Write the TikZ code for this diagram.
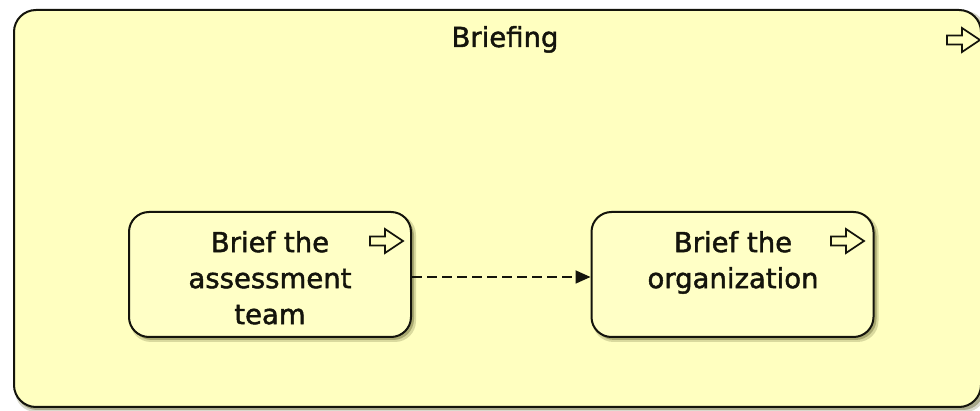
\documentclass[tikz,border=0pt]{standalone}
\usepackage{fontspec}
\setmainfont{DejaVu Sans}[RawFeature={embolden=1.6}]
\usetikzlibrary{arrows.meta,shadows}

\definecolor{panelfill}{RGB}{255,255,192}
\definecolor{taskfill}{RGB}{255,255,198}
\definecolor{shadecol}{RGB}{110,110,60}
\definecolor{edgecol}{RGB}{20,20,12}

\tikzset{
  x=1pt, y=-1pt,
  panel/.style={draw=edgecol, line width=2pt, fill=panelfill,
    rounded corners=22pt, minimum width=967pt, minimum height=397pt,
    inner sep=0pt},
  taskbox/.style={draw=edgecol, line width=2pt, fill=taskfill,
    rounded corners=20pt, minimum width=282pt, minimum height=125pt,
    inner sep=0pt},
  boxshade/.style={fill=shadecol, rounded corners=21pt},
  label/.style={font=\fontsize{27.5}{36}\selectfont, text=edgecol,
    align=center, inner sep=0pt},
  flow/.style={draw=edgecol, line width=1.8pt, dash pattern=on 10pt off 5pt,
    -{Triangle[length=15pt,width=13pt]}},
  pics/flowmark/.style={code={
    \draw[edgecol, line width=1.7pt, fill=panelfill, line join=miter]
      (-33,-4.5) -- (-18,-4.5) -- (-18,-12) -- (0,0) -- (-18,12)
      -- (-18,4.5) -- (-33,4.5) -- cycle;
  }}
}

\begin{document}
\begin{tikzpicture}
  \useasboundingbox (0,0) rectangle (980,411);
  \clip (0,0) rectangle (980,411);
  \fill[white] (0,0) rectangle (980,411);

  % enclosing sub-process with a soft shadow
  \fill[boxshade, opacity=0.25] (15,11) rectangle (986,412);
  \fill[boxshade, opacity=0.45] (16,12) rectangle (984,410);
  \node[panel] (briefing) at (497.5,208.5) {};
  \node[label, anchor=base] (briefingtitle) at (505,47) {Briefing};
  \pic at (980,40) {flowmark};

  % task shadows
  \foreach \cx in {270,732.5} {
    \fill[boxshade, opacity=0.25] (\cx-140,214) rectangle (\cx+146,342);
    \fill[boxshade, opacity=0.45] (\cx-139,215) rectangle (\cx+144,340);
  }

  % tasks
  \node[taskbox] (assess) at (270,274.5) {};
  \node[label, anchor=north] (assesstext) at (270,231) {Brief the\\assessment\\team};
  \pic at (403,241) {flowmark};

  \node[taskbox] (org) at (732.5,274.5) {};
  \node[label, anchor=north] (orgtext) at (733,231) {Brief the\\organization};
  \pic at (864,241) {flowmark};

  % sequence flow
  \draw[flow] ([yshift=-2.5pt]assess.east) -- ([yshift=-2.5pt]org.west);
\end{tikzpicture}
\end{document}
